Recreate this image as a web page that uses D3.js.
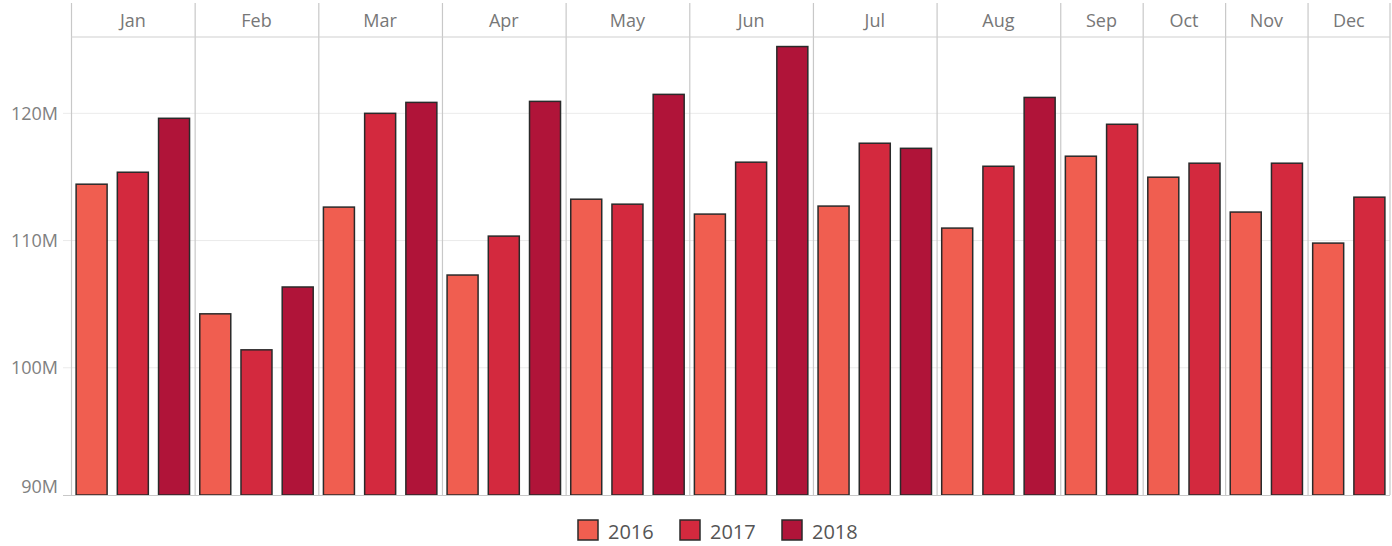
<!DOCTYPE html>
<html>
<head>
<meta charset="utf-8">
<script src="https://cdn.jsdelivr.net/npm/d3@7"></script>
<style>
  body { margin: 0; background: #fff; }
  svg { display: block; font-family: "Open Sans", sans-serif; }
</style>
</head>
<body>
<svg width="1392" height="546"></svg>
<script>
const months = ["Jan","Feb","Mar","Apr","May","Jun","Jul","Aug","Sep","Oct","Nov","Dec"]
const years = ["2016","2017","2018"]
const sales2016 = [114.43,104.24,112.63,107.29,113.25,112.08,112.71,110.98,116.63,114.98,112.24,109.80]
const sales2017 = [115.37,101.41,120.00,110.35,112.86,116.16,117.65,115.84,119.14,116.08,116.08,113.41]
const sales2018 = [119.61,106.35,120.86,120.94,121.49,125.25,117.25,121.25,null,null,null,null]
const yTicks = [90,100,110,120]
const colors = ["#f05e50","#d3293e","#b01439"]

const svg = d3.select("svg")
const plotLeft = 71, plotRight = 1390, plotTop = 37, plotBottom = 495

// build panels: each month gets a slot per year that has data
let series = [sales2016, sales2017, sales2018]
let panels = []
let slot = 0
months.forEach((m, i) => {
  let bars = []
  series.forEach((s, j) => {
    if (s[i] != null) bars.push({year: years[j], idx: j, value: s[i], slot: slot++})
  })
  panels.push({month: m, bars: bars, start: bars[0].slot, end: slot})
})

const x = d3.scaleLinear().domain([0, slot]).range([plotLeft, plotRight])
const y = d3.scaleLinear().domain([90, 126]).range([plotBottom, plotTop])
const slotW = x(1) - x(0)
const barW = 31

// gridlines
svg.append("g").selectAll("line")
  .data(yTicks.filter(t => t > 90))
  .enter().append("line")
  .attr("x1", 63).attr("x2", plotRight)
  .attr("y1", d => y(d)).attr("y2", d => y(d))
  .attr("stroke", "#ebebeb").attr("stroke-width", 1)

// y axis labels
const yAxis = d3.axisLeft(y).tickValues(yTicks).tickFormat(d => d + "M").tickSize(0).tickPadding(13)
const ya = svg.append("g").attr("transform", `translate(${plotLeft},0)`).call(yAxis)
ya.select(".domain").remove()
ya.selectAll("text").attr("font-size", 18).attr("fill", "#808080")
  .attr("font-family", "Open Sans, sans-serif")
ya.selectAll(".tick").filter(d => d == 90).select("text").attr("dy", "-0.15em")

// bars
svg.append("g").selectAll("rect")
  .data(panels.flatMap(p => p.bars))
  .enter().append("rect")
  .attr("x", d => x(d.slot) + (slotW - barW) / 2)
  .attr("width", barW)
  .attr("y", d => y(d.value))
  .attr("height", d => plotBottom - y(d.value))
  .attr("fill", d => colors[d.idx])
  .attr("stroke", "#2a2a2a")
  .attr("stroke-width", 1.5)

// panel separators and header
svg.append("g").selectAll("line")
  .data(panels.slice(1))
  .enter().append("line")
  .attr("x1", d => x(d.start) + 0.5).attr("x2", d => x(d.start) + 0.5)
  .attr("y1", 3).attr("y2", plotBottom)
  .attr("stroke", "#c8c8c8").attr("stroke-width", 1.2)

svg.append("line").attr("x1", plotLeft + 0.5).attr("x2", plotLeft + 0.5).attr("y1", 3).attr("y2", plotBottom)
  .attr("stroke", "#c8c8c8").attr("stroke-width", 1.2)
svg.append("line").attr("x1", plotRight).attr("x2", plotRight).attr("y1", 3).attr("y2", plotBottom)
  .attr("stroke", "#c8c8c8").attr("stroke-width", 1.2)
svg.append("line").attr("x1", plotLeft).attr("x2", plotRight).attr("y1", plotTop).attr("y2", plotTop)
  .attr("stroke", "#cfcfcf").attr("stroke-width", 1.2)
svg.append("line").attr("x1", 63).attr("x2", plotRight).attr("y1", plotBottom + 0.5).attr("y2", plotBottom + 0.5)
  .attr("stroke", "#c8c8c8").attr("stroke-width", 1.2)

svg.append("g").selectAll("text")
  .data(panels)
  .enter().append("text")
  .attr("x", d => (x(d.start) + x(d.end)) / 2)
  .attr("y", 27)
  .attr("text-anchor", "middle")
  .attr("font-size", 18)
  .attr("fill", "#777")
  .text(d => d.month)

// legend
const legend = svg.append("g").attr("transform", "translate(578,520)")
const item = legend.selectAll("g").data(years).enter().append("g")
  .attr("transform", (d, i) => `translate(${[0, 102, 204][i]},0)`)
item.append("rect").attr("width", 20).attr("height", 20)
  .attr("fill", (d, i) => colors[i]).attr("stroke", "#2a2a2a").attr("stroke-width", 1.5)
item.append("text").attr("x", 30).attr("y", 19)
  .attr("font-size", 20).attr("fill", "#555").text(d => d)
</script>
</body>
</html>
